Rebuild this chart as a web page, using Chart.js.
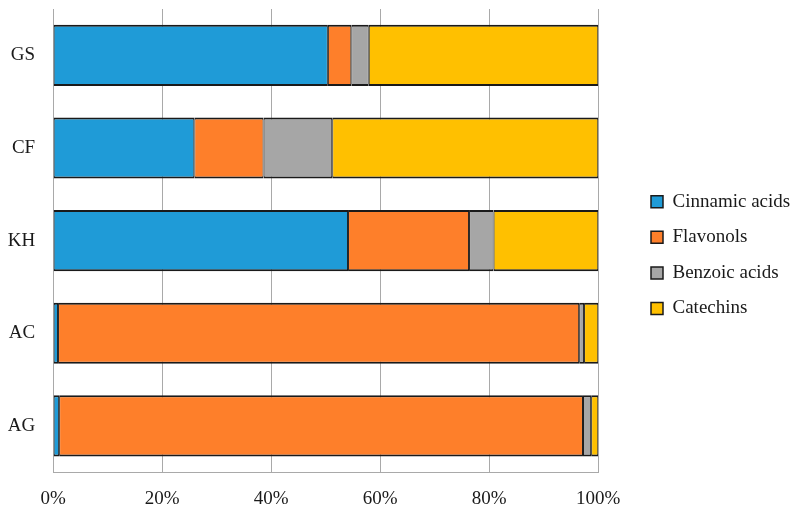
<!DOCTYPE html>
<html>
<head>
<meta charset="utf-8">
<script src="https://cdn.jsdelivr.net/npm/chart.js@4"></script>
<style>
  html, body { margin: 0; padding: 0; background: #ffffff; }
  #wrap { width: 799px; height: 518px; position: relative; }
</style>
</head>
<body>
<div id="wrap"><canvas id="c" width="799" height="518"></canvas></div>
<script>
const categories = ['GS', 'CF', 'KH', 'AC', 'AG'];
const cinnamicAcids = [50.4, 25.9, 54.1, 0.9, 1.1];
const flavonols     = [4.3, 12.7, 22.2, 95.6, 96.1];
const benzoicAcids  = [3.2, 12.6, 4.5, 0.9, 1.5];
const catechins     = [42.1, 48.8, 19.2, 2.6, 1.3];
const xTicks = [0, 20, 40, 60, 80, 100];

const seriesNames = ['Cinnamic acids', 'Flavonols', 'Benzoic acids', 'Catechins'];
const seriesColors = ['#1f9bd7', '#fe7f2a', '#a6a6a6', '#ffc000'];
const seriesValues = [cinnamicAcids, flavonols, benzoicAcids, catechins];

const FONT = 'Liberation Serif';

const legendShift = {
  id: 'legendShift',
  afterLayout(chart) {
    const lg = chart.legend;
    if (!lg) return;
    const dx = 651 - 16.6 - lg.left;
    lg.left += dx; lg.right += dx;
    lg.top -= 4.4; lg.bottom -= 4.4;
  }
};

new Chart(document.getElementById('c'), {
  type: 'bar',
  data: {
    labels: categories,
    datasets: seriesNames.map((name, i) => ({
      label: name,
      data: seriesValues[i],
      backgroundColor: seriesColors[i],
      borderColor: '#1a1a1a',
      borderWidth: { top: 2, bottom: 2, left: 1, right: 1 },
      borderSkipped: false,
      barPercentage: 0.66,
      categoryPercentage: 1.0
    }))
  },
  options: {
    indexAxis: 'y',
    responsive: false,
    animation: false,
    devicePixelRatio: 1,
    layout: { autoPadding: false, padding: { left: 7.7, top: 9, right: 35, bottom: 8 } },
    scales: {
      x: {
        stacked: true,
        min: 0,
        max: 100,
        afterBuildTicks(scale) { scale.ticks = xTicks.map(v => ({ value: v })); },
        afterFit(scale) {
          scale.paddingLeft = 0; scale.paddingRight = 0;
          scale.height -= scale.options.ticks.padding;
        },
        ticks: {
          padding: 15,
          color: '#1a1a1a',
          font: { family: FONT, size: 19 },
          callback: v => v + '%'
        },
        grid: { color: '#a9a9a9', lineWidth: 1, drawTicks: false },
        border: { display: true, color: '#a9a9a9', width: 1 }
      },
      y: {
        stacked: true,
        afterFit(scale) {
          scale.paddingTop = 0; scale.paddingBottom = 0;
          scale.width -= scale.options.ticks.padding;
        },
        ticks: {
          padding: 18,
          color: '#1a1a1a',
          font: { family: FONT, size: 19 }
        },
        grid: { display: false, drawTicks: false },
        border: { display: true, color: '#a9a9a9', width: 1 }
      }
    },
    plugins: {
      legend: {
        position: 'right',
        align: 'center',
        labels: {
          boxWidth: 12,
          boxHeight: 12,
          padding: 16.6,
          color: '#1a1a1a',
          font: { family: FONT, size: 19 }
        }
      },
      tooltip: { enabled: false }
    }
  },
  plugins: [legendShift]
});
</script>
</body>
</html>
